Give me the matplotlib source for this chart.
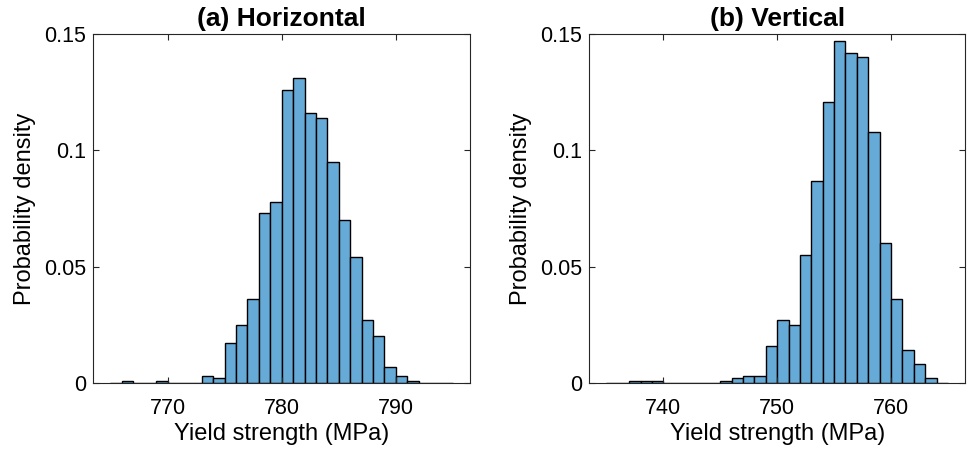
import numpy as np
from matplotlib import pyplot as plt

plt.rcParams['font.family'] = ['Liberation Sans', 'DejaVu Sans']

# (a) Horizontal: 1 MPa bins starting at 765 MPa
h_start = 765
h_density = [0, 0.001, 0, 0, 0.001, 0, 0, 0, 0.003, 0.002,
             0.017, 0.025, 0.036, 0.073, 0.078, 0.126, 0.131, 0.116, 0.114, 0.095,
             0.070, 0.054, 0.027, 0.020, 0.007, 0.003, 0.001, 0, 0, 0]

# (b) Vertical: 1 MPa bins starting at 735 MPa
v_start = 735
v_density = [0, 0, 0.001, 0.001, 0.001, 0, 0, 0, 0, 0,
             0.001, 0.002, 0.003, 0.003, 0.016, 0.027, 0.025, 0.055, 0.087, 0.121,
             0.147, 0.142, 0.140, 0.108, 0.060, 0.036, 0.014, 0.008, 0.002, 0]

h_ticks = [770, 780, 790]
v_ticks = [740, 750, 760]
y_ticks = [0, 0.05, 0.1, 0.15]
y_tick_labels = ['0', '0.05', '0.1', '0.15']

face = '#66AAD7'
axis_col = '#262626'


def draw_hist(ax, start, dens, xlim, xticks, title):
	edges = start + np.arange(len(dens))
	ax.bar(edges, dens, width=1, align='edge', color=face,
		   edgecolor='black', linewidth=1.0)
	ax.set_xlim(*xlim)
	ax.set_ylim(0, 0.15)
	ax.set_xticks(xticks)
	ax.set_yticks(y_ticks)
	ax.set_yticklabels(y_tick_labels)
	ax.tick_params(direction='in', top=True, right=True, length=4,
				   width=0.8, color=axis_col, labelsize=15.5, pad=5)
	ax.tick_params(axis='x', pad=11)  # x labels sit lower in the original
	for s in ax.spines.values():
		s.set_color(axis_col)
		s.set_linewidth(0.8)
	ax.set_xlabel('Yield strength (MPa)', fontsize=17, labelpad=3)
	ax.set_ylabel('Probability density', fontsize=17, labelpad=6)
	ax.set_title(title, fontsize=19, fontweight='bold', pad=6)


fig = plt.figure(figsize=(9.67, 4.5), dpi=100)
ax1 = fig.add_axes([0.0965, 0.149, 0.3896, 0.775])
ax2 = fig.add_axes([0.6094, 0.149, 0.3885, 0.775])

draw_hist(ax1, h_start, h_density, (763.5, 796.5), h_ticks, '(a) Horizontal')
draw_hist(ax2, v_start, v_density, (733.5, 766.5), v_ticks, '(b) Vertical')

fig.savefig('out.png', dpi=100)
